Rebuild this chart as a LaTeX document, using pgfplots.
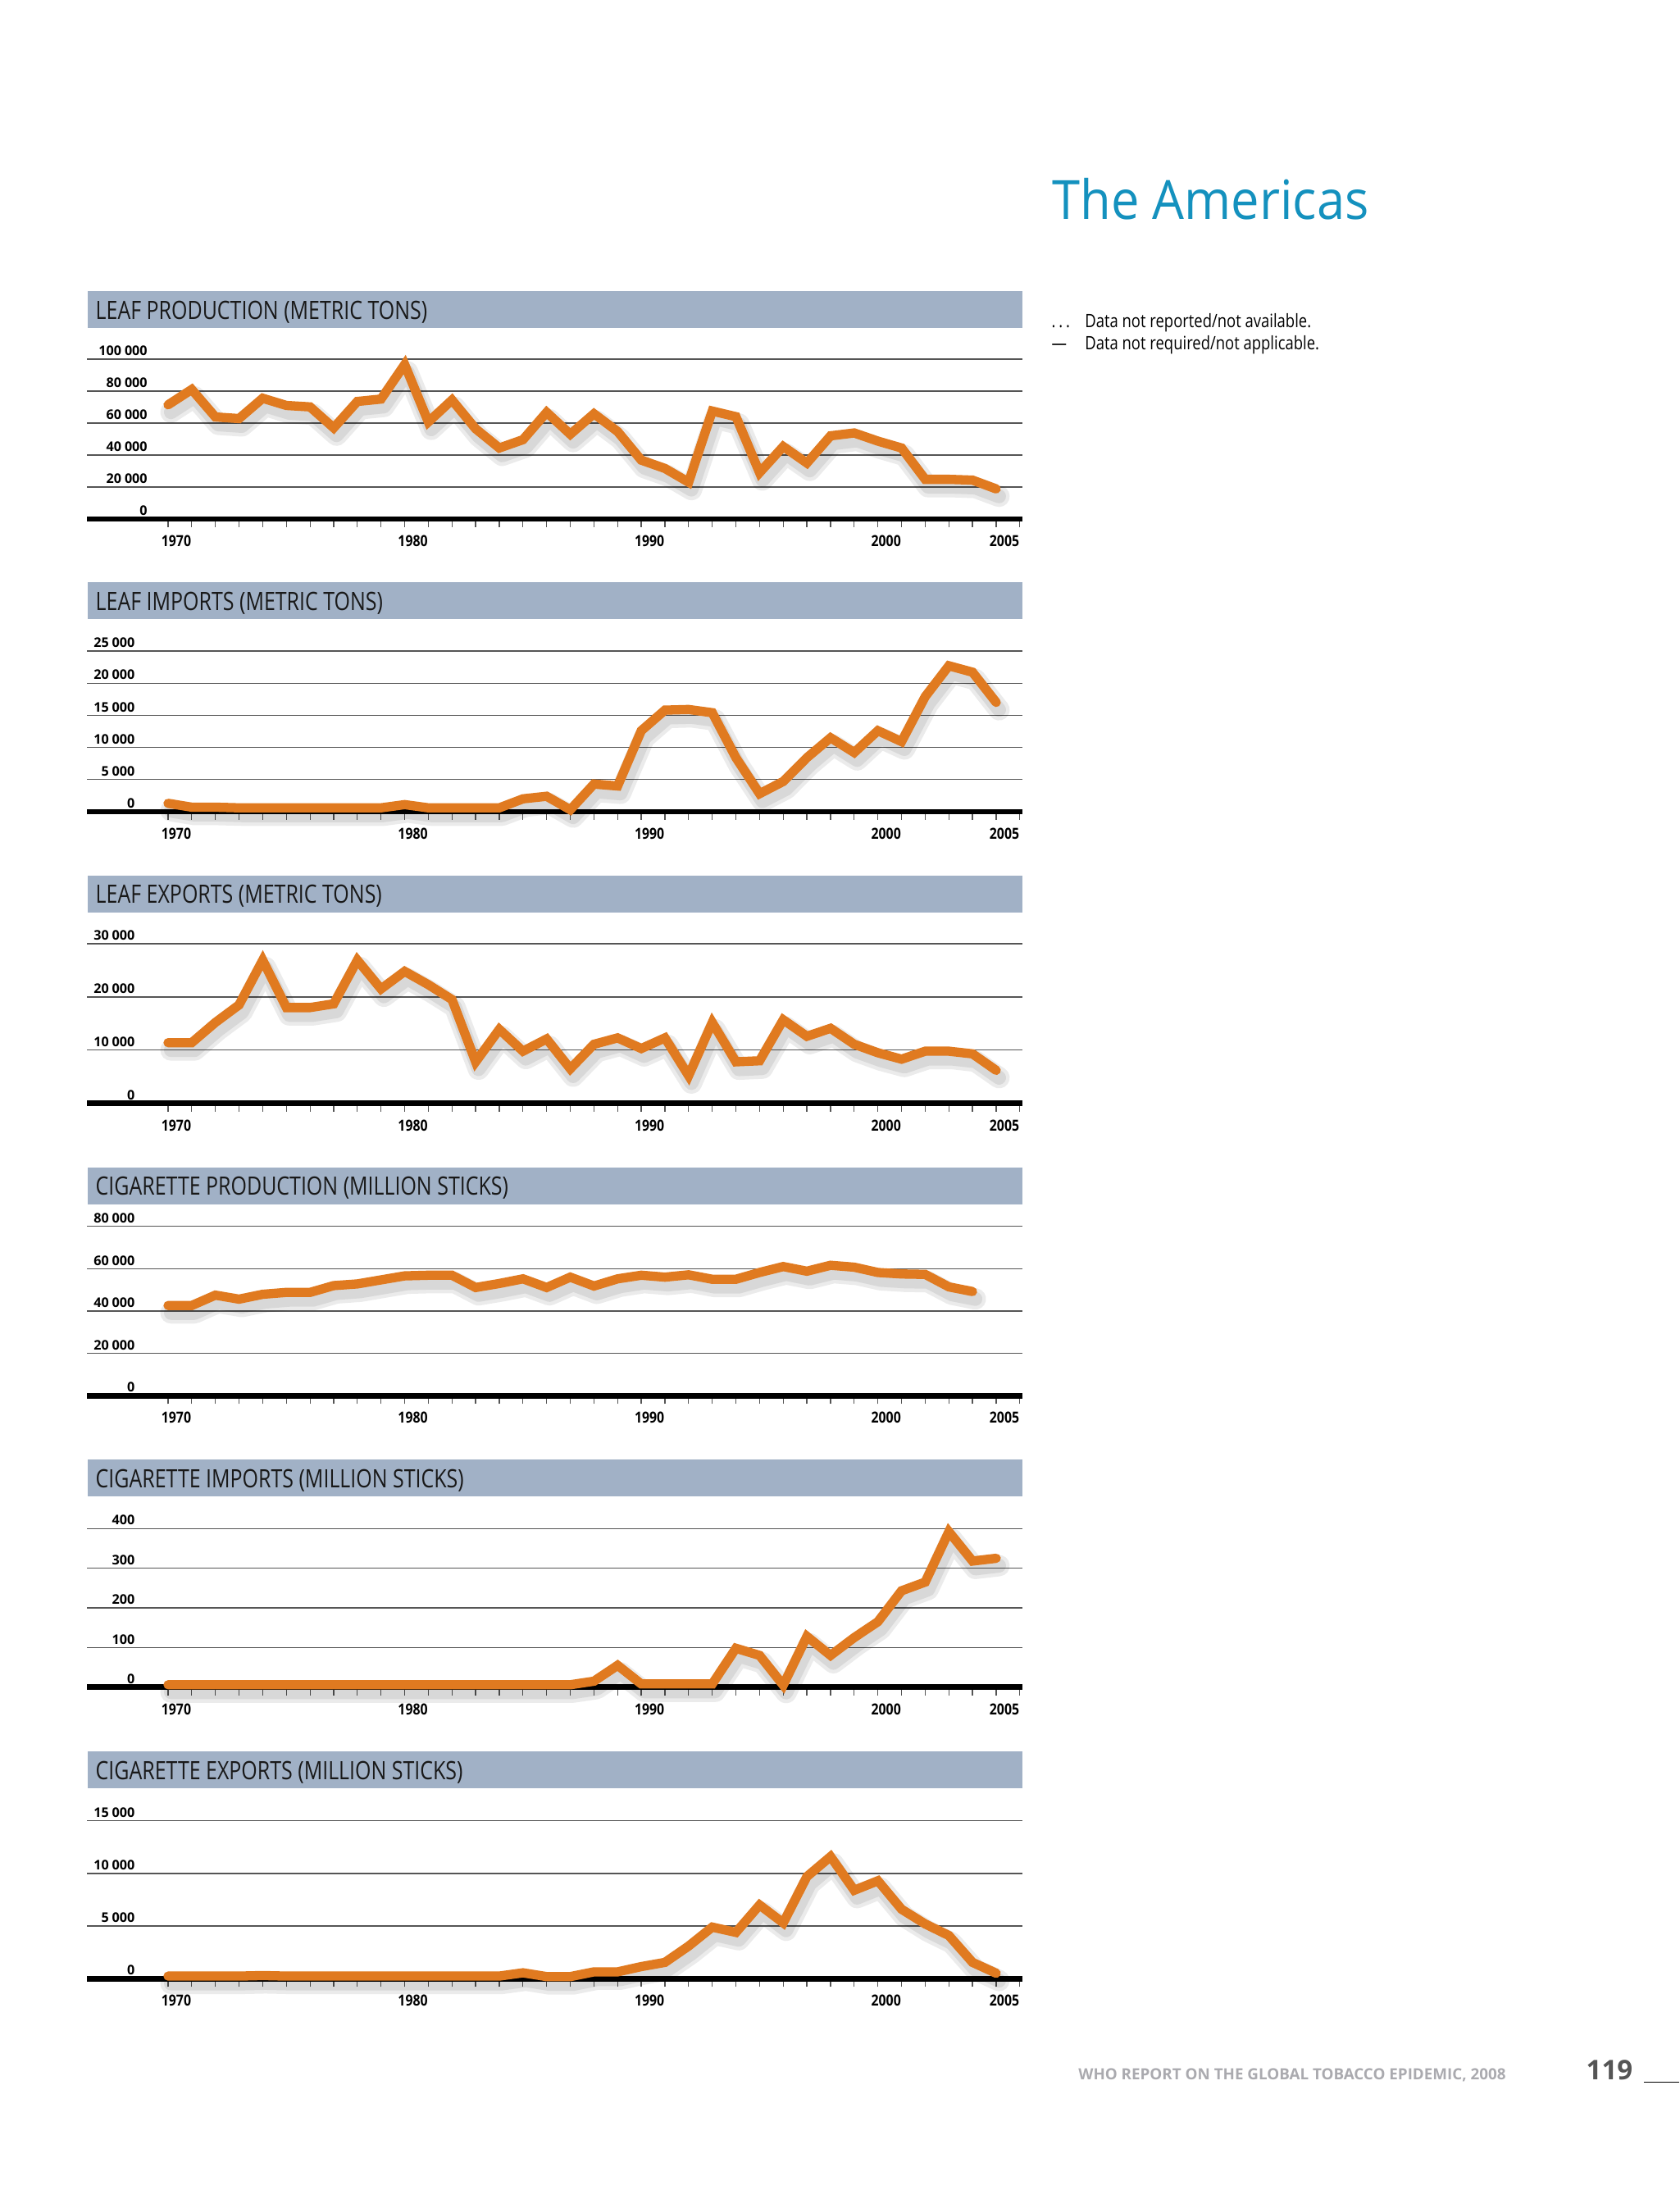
\documentclass[border=0pt]{standalone}
\usepackage{fontspec}
\setmainfont{Open Sans}
\newfontfamily\headfont[FakeStretch=0.81]{Open Sans}
\newfontfamily\notefont[FakeStretch=0.82]{Open Sans}
\newfontfamily\titlefont[FakeStretch=0.93]{Open Sans}
\newfontfamily\xtickfont[FakeStretch=0.85]{Open Sans}
\usepackage{pgfplots}
\pgfplotsset{compat=1.18}
\usepackage{pgfplotstable}

\definecolor{lineor}{RGB}{224,122,32}
\definecolor{barblue}{RGB}{161,177,198}
\definecolor{titleblue}{RGB}{20,145,190}
\definecolor{gridgray}{RGB}{85,85,85}
\definecolor{footgray}{RGB}{170,170,175}

% leaf production (metric tons)
\pgfplotstableread{
year val
1970 71400
1971 81000
1972 63800
1973 62800
1974 75500
1975 71000
1976 70100
1977 57000
1978 73500
1979 75000
1980 96600
1981 60700
1982 74400
1983 56400
1984 44400
1985 49600
1986 66700
1987 53000
1988 65800
1989 54700
1990 36800
1991 31600
1992 23000
1993 67500
1994 64000
1995 29000
1996 45300
1997 35000
1998 52000
1999 53800
2000 48700
2001 44400
2002 24800
2003 24800
2004 24300
2005 18800
}\leafprod

% leaf imports (metric tons)
\pgfplotstableread{
year val
1970 1300
1971 700
1972 700
1973 600
1974 600
1975 600
1976 600
1977 600
1978 600
1979 600
1980 1100
1981 600
1982 600
1983 600
1984 600
1985 2000
1986 2400
1987 300
1988 4300
1989 4000
1990 12600
1991 15800
1992 15900
1993 15400
1994 8400
1995 2800
1996 4700
1997 8400
1998 11500
1999 9200
2000 12600
2001 10900
2002 17900
2003 22700
2004 21700
2005 17000
}\leafimp

% leaf exports (metric tons)
\pgfplotstableread{
year val
1970 11400
1971 11400
1972 15200
1973 18500
1974 26900
1975 18000
1976 18000
1977 18700
1978 26900
1979 21500
1980 24800
1981 22300
1982 19500
1983 7800
1984 13900
1985 9800
1986 12100
1987 6500
1988 11100
1989 12300
1990 10300
1991 12300
1992 5200
1993 15200
1994 7800
1995 8000
1996 15700
1997 12600
1998 14100
1999 11100
2000 9500
2001 8300
2002 9800
2003 9800
2004 9300
2005 6200
}\leafexp

% cigarette production (million sticks)
\pgfplotstableread{
year val
1970 42600
1971 42600
1972 47500
1973 45600
1974 47900
1975 48800
1976 48800
1977 52000
1978 52800
1979 54700
1980 56600
1981 56900
1982 56900
1983 51100
1984 53000
1985 55200
1986 51100
1987 56000
1988 51800
1989 55200
1990 56900
1991 56000
1992 57100
1993 55000
1994 55000
1995 58200
1996 61000
1997 58800
1998 61600
1999 60700
2000 58200
2001 57500
2002 57300
2003 51400
2004 49200
}\cigprod

% cigarette imports (million sticks)
\pgfplotstableread{
year val
1970 6
1971 6
1972 6
1973 6
1974 6
1975 6
1976 6
1977 6
1978 6
1979 6
1980 6
1981 6
1982 6
1983 6
1984 6
1985 6
1986 6
1987 6
1988 15
1989 55
1990 8
1991 8
1992 8
1993 8
1994 98
1995 80
1996 5
1997 128
1998 80
1999 125
2000 165
2001 243
2002 265
2003 392
2004 318
2005 325
}\cigimp

% cigarette exports (million sticks)
\pgfplotstableread{
year val
1970 250
1971 250
1972 250
1973 250
1974 300
1975 250
1976 250
1977 250
1978 250
1979 250
1980 250
1981 250
1982 250
1983 250
1984 250
1985 560
1986 200
1987 200
1988 650
1989 650
1990 1150
1991 1550
1992 3100
1993 4900
1994 4400
1995 7000
1996 5300
1997 9700
1998 11600
1999 8400
2000 9300
2001 6600
2002 5200
2003 4100
2004 1550
2005 520
}\cigexp

\pgfplotsset{
  panel/.style={
    scale only axis,
    width=114.1mm,
    xmin=1966.57, xmax=2006.11,
    ymin=0,
    clip=false,
    axis x line*=bottom,
    axis y line*=left,
    y axis line style={draw=none},
    x axis line style={line width=0.67mm, black},
    xtick={1970,1980,1990,2000,2005},
    minor xtick={1970,...,2006},
    tick align=outside,
    major tick length=0pt,
    xtick style={draw=gridgray, line width=0.12mm, /pgfplots/major tick length=1mm, /pgfplots/minor tick length=1mm},
    ytick style={draw=none},
    ymajorgrids,
    grid style={draw=gridgray, line width=0.13mm},
    scaled y ticks=false,
    /pgf/number format/assume math mode=true,
    xticklabel={\pgfmathprintnumber[fixed,precision=0,1000 sep={}]{\tick}},
    yticklabel={\pgfmathprintnumber[fixed,precision=0,1000 sep={\hskip0.24em}]{\tick}},
    xticklabel style={font=\xtickfont\bfseries\fontsize{5.3}{6}\selectfont,
      anchor=base, inner sep=0pt, xshift=1mm, yshift=-3.37mm},
    yticklabel style={font=\bfseries\fontsize{4.6}{5.5}\selectfont,
      anchor=base east, inner sep=0pt, xshift=5.9mm, yshift=0.43mm},
  },
  dataline/.style={draw=lineor, line width=1.13mm, line join=miter,
    miter limit=3, line cap=round, mark=none},
  shad/.style={draw=black, opacity=0.08, line width=#1, line join=round,
    line cap=round, mark=none, xshift=0.35mm, yshift=-0.9mm, forget plot},
}

\newcommand{\series}[1]{%
  \addplot[shad=2.6mm] table[x=year,y=val] {#1};
  \addplot[shad=1.7mm] table[x=year,y=val] {#1};
  \addplot[dataline] table[x=year,y=val] {#1};
}

% header bar with its caption; #1 = bottom edge (mm)
\newcommand{\headbar}[2]{%
  \fill[barblue] (10.67mm,#1mm) rectangle (124.7mm,#1mm+4.5mm);
  \node[anchor=base west, inner sep=0pt, text=black!90] at (11.6mm,#1mm+1.07mm)
    {\headfont\fontsize{8.77}{10}\selectfont #2};
}

\begin{document}
\begin{tikzpicture}
  \path[use as bounding box, fill=white] (0,0) rectangle (204.8mm,267.1mm);

  % title and notes
  \node[anchor=base west, inner sep=0pt, text=titleblue] at (128.3mm,240.37mm)
    {\titlefont\fontsize{18.8}{22}\selectfont The Americas};
  \node[anchor=base west, inner sep=0pt] at (128.2mm,227.1mm)
    {\notefont\fontsize{6.4}{7.5}\selectfont .\,.\,.};
  \node[anchor=base west, inner sep=0pt] at (132.27mm,227.1mm)
    {\notefont\fontsize{6.4}{7.5}\selectfont Data not reported/not available.};
  \node[anchor=base west, inner sep=0pt] at (128.2mm,224.43mm)
    {\notefont\fontsize{6.4}{7.5}\selectfont —};
  \node[anchor=base west, inner sep=0pt] at (132.27mm,224.43mm)
    {\notefont\fontsize{6.4}{7.5}\selectfont Data not required/not applicable.};

  \headbar{227.1}{LEAF PRODUCTION (METRIC TONS)}
  \headbar{191.62}{LEAF IMPORTS (METRIC TONS)}
  \headbar{155.84}{LEAF EXPORTS (METRIC TONS)}
  \headbar{120.23}{CIGARETTE PRODUCTION (MILLION STICKS)}
  \headbar{84.62}{CIGARETTE IMPORTS (MILLION STICKS)}
  \headbar{49.01}{CIGARETTE EXPORTS (MILLION STICKS)}

  \begin{axis}[panel, at={(10.6mm,203.8mm)}, anchor=south west, height=19.5mm,
      ymax=100000, ytick={0,20000,...,100000},
      yticklabel style={xshift=1.54mm}]
    \series{\leafprod}
  \end{axis}

  \begin{axis}[panel, at={(10.6mm,168.1mm)}, anchor=south west, height=19.6mm,
      ymax=25000, ytick={0,5000,...,25000}]
    \series{\leafimp}
  \end{axis}

  \begin{axis}[panel, at={(10.6mm,132.53mm)}, anchor=south west, height=19.47mm,
      ymax=30000, ytick={0,10000,20000,30000}]
    \series{\leafexp}
  \end{axis}

  \begin{axis}[panel, at={(10.6mm,96.87mm)}, anchor=south west, height=20.66mm,
      ymax=80000, ytick={0,20000,...,80000}]
    \series{\cigprod}
  \end{axis}

  \begin{axis}[panel, at={(10.6mm,61.33mm)}, anchor=south west, height=19.34mm,
      ymax=400, ytick={0,100,...,400}]
    \series{\cigimp}
  \end{axis}

  \begin{axis}[panel, at={(10.6mm,25.77mm)}, anchor=south west, height=19.26mm,
      ymax=15000, ytick={0,5000,10000,15000}]
    \series{\cigexp}
  \end{axis}

  % footer
  \node[anchor=base west, inner sep=0pt, text=footgray] at (131.46mm,13.4mm)
    {\bfseries\fontsize{5.35}{6}\selectfont WHO REPORT ON THE GLOBAL TOBACCO EPIDEMIC, 2008};
  \node[anchor=base west, inner sep=0pt, text=gridgray] at (193.4mm,13.4mm)
    {\bfseries\fontsize{9.4}{11}\selectfont 119};
  \draw[line width=0.15mm] (200.47mm,13.15mm) -- (204.8mm,13.15mm);
\end{tikzpicture}
\end{document}
